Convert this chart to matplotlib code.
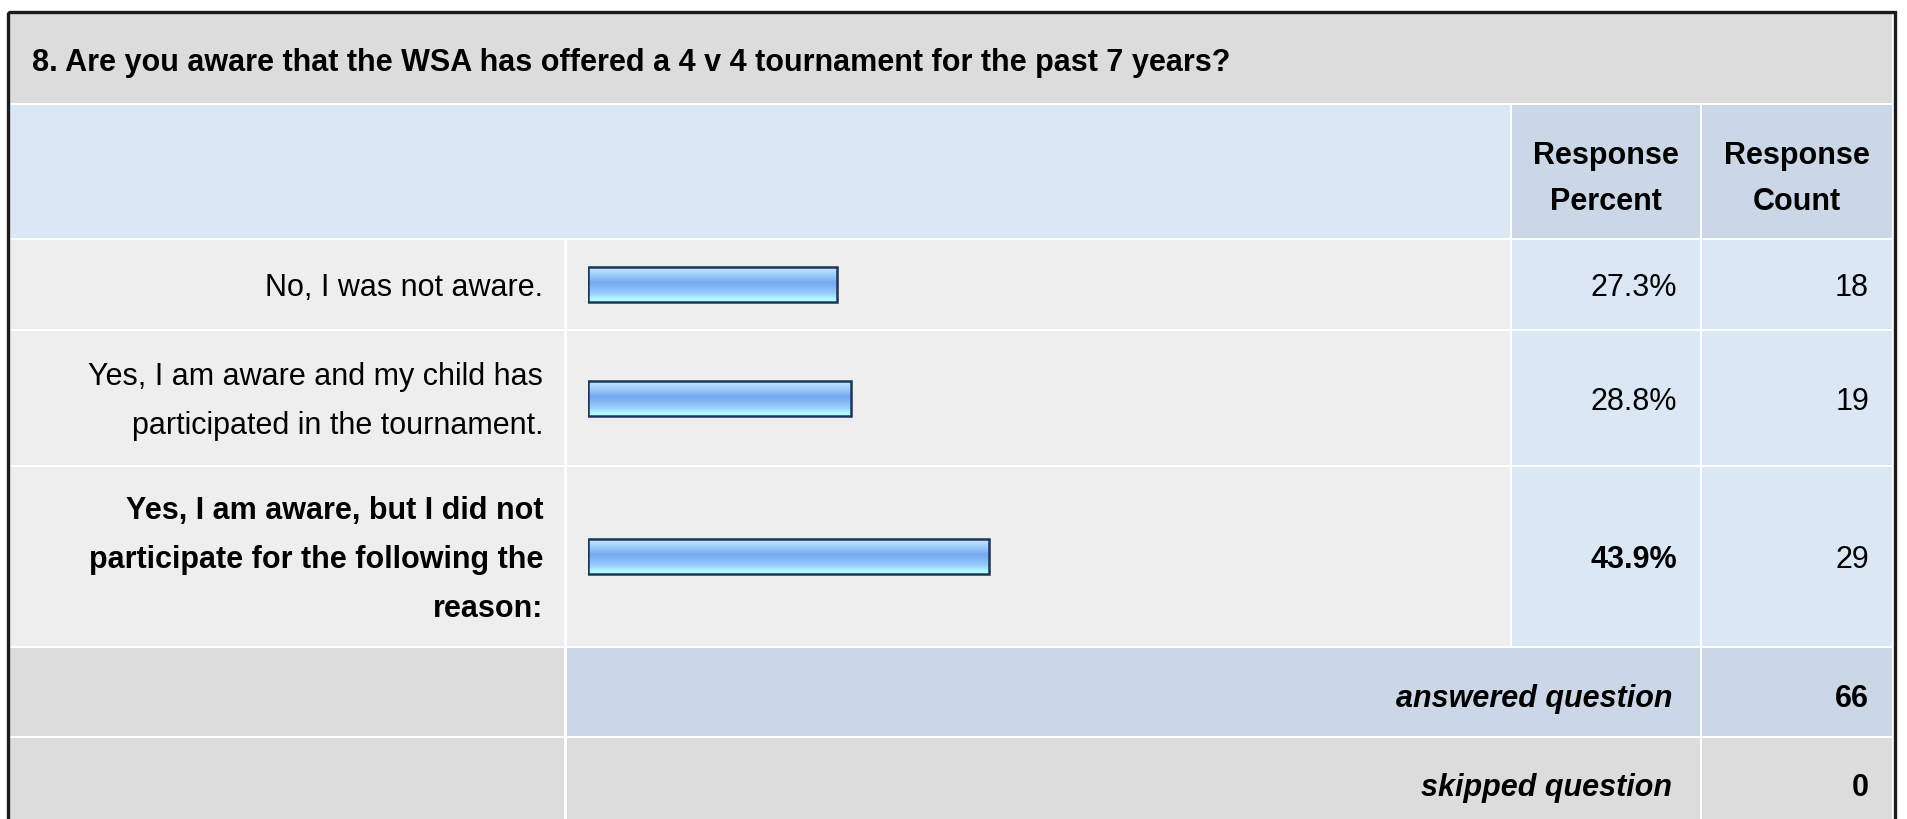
import matplotlib.pyplot as plt
import numpy as np
from matplotlib.patches import Rectangle
from matplotlib.colors import LinearSegmentedColormap

plt.rcParams['font.family'] = ['Liberation Sans', 'DejaVu Sans']

# data
question = "8. Are you aware that the WSA has offered a 4 v 4 tournament for the past 7 years?"
answers = ["No, I was not aware.",
           "Yes, I am aware and my child has\nparticipated in the tournament.",
           "Yes, I am aware, but I did not\nparticipate for the following the\nreason:"]
percents = [27.3, 28.8, 43.9]
counts = [18, 19, 29]
answered = 66
skipped = 0

W, H = 1907, 820
FS = 22

fig = plt.figure(figsize=(W / 100, H / 100), dpi=100)
ax = fig.add_axes([0, 0, 1, 1])
ax.set_xlim(0, W)
ax.set_ylim(H, 0)
ax.axis('off')

def box(x0, x1, y0, y1, c):
    ax.add_patch(Rectangle((x0, y0), x1 - x0, y1 - y0, facecolor=c, edgecolor='none', zorder=1))

GRAY = '#dcdcdc'
LGRAY = '#eeeeee'
LBLUE = '#dce7f5'
MBLUE = '#cbd7e6'

# column edges (pixels)
L0, L1 = 9, 564
B0, B1 = 567, 1510
P0, P1 = 1512, 1700
C0, C1 = 1702, 1892

# title band
box(L0, C1, 14, 104, GRAY)
ax.text(32, 63, question, fontsize=FS, fontweight='bold', va='center', ha='left', zorder=3)

# header band
box(L0, B1, 106, 239, LBLUE)
box(P0, P1, 106, 239, MBLUE)
box(C0, C1, 106, 239, MBLUE)
for cx, word in [((P0 + P1) / 2, "Percent"), ((C0 + C1) / 2, "Count")]:
    ax.text(cx, 156, "Response", fontsize=FS, fontweight='bold', ha='center', va='center', zorder=3)
    ax.text(cx, 202, word, fontsize=FS, fontweight='bold', ha='center', va='center', zorder=3)

# answer rows
row_edges = [(241, 330), (332, 466), (468, 647)]
best = int(np.argmax(percents))
for i, (y0, y1) in enumerate(row_edges):
    box(L0, L1, y0, y1, LGRAY)
    box(B0, B1, y0, y1, LGRAY)
    box(P0, P1, y0, y1, LBLUE)
    box(C0, C1, y0, y1, LBLUE)
    yc = (y0 + y1) / 2 + 3
    w = 'bold' if i == best else 'normal'
    lines = answers[i].split('\n')
    n = len(lines)
    for k, line in enumerate(lines):
        ax.text(543, yc + (k - (n - 1) / 2) * 49, line, fontsize=FS, fontweight=w,
                ha='right', va='center', zorder=3)
    ax.text(1677, yc, f"{percents[i]:.1f}%", fontsize=FS, fontweight=w, ha='right', va='center', zorder=3)
    ax.text(1869, yc, str(counts[i]), fontsize=FS, ha='right', va='center', zorder=3)

# summary rows
box(L0, L1, 649, 737, GRAY)
box(B0, P1, 649, 737, MBLUE)
box(C0, C1, 649, 737, MBLUE)
ax.text(1672, 699, "answered question", fontsize=FS, fontweight='bold', fontstyle='italic',
        ha='right', va='center', zorder=3)
ax.text(1869, 699, str(answered), fontsize=FS, fontweight='bold', ha='right', va='center', zorder=3)

box(L0, L1, 739, 830, GRAY)
box(B0, P1, 739, 830, GRAY)
box(C0, C1, 739, 830, GRAY)
ax.text(1672, 788, "skipped question", fontsize=FS, fontweight='bold', fontstyle='italic',
        ha='right', va='center', zorder=3)
ax.text(1869, 788, str(skipped), fontsize=FS, fontweight='bold', ha='right', va='center', zorder=3)

# outer border
ax.add_patch(Rectangle((7.5, 13), 1887, 830, facecolor='none', edgecolor='#1a1a1a', linewidth=2.4, zorder=4))

# bars
bx0, bx1 = 588, 1501
by0, by1 = row_edges[0][0] - 1, row_edges[-1][1]
bax = fig.add_axes([bx0 / W, 1 - by1 / H, (bx1 - bx0) / W, (by1 - by0) / H])
bax.axis('off')
bax.patch.set_alpha(0)

grad = LinearSegmentedColormap.from_list('bar', [
    (0.0, '#cfe7ff'), (0.2, '#a2cfff'), (0.45, '#76aaee'), (0.58, '#82b7f4'),
    (0.78, '#9dd0ff'), (0.9, '#b0f6ff'), (1.0, '#b8ffff')])
g = np.linspace(0, 1, 64).reshape(-1, 1)
centers = [(y0 + y1) / 2 for y0, y1 in row_edges]
bh = 35
for yc, p in zip(centers, percents):
    bax.imshow(g, cmap=grad, aspect='auto', extent=(0, p, yc + bh / 2, yc - bh / 2),
               interpolation='bilinear', zorder=2)
bax.barh(centers, percents, height=bh, left=0, facecolor='none', edgecolor='#1c3658',
         linewidth=1.8, zorder=3)
bax.set_xlim(0, 100)
bax.set_ylim(by1, by0)

fig.savefig('out.png', dpi=100, facecolor='white')
